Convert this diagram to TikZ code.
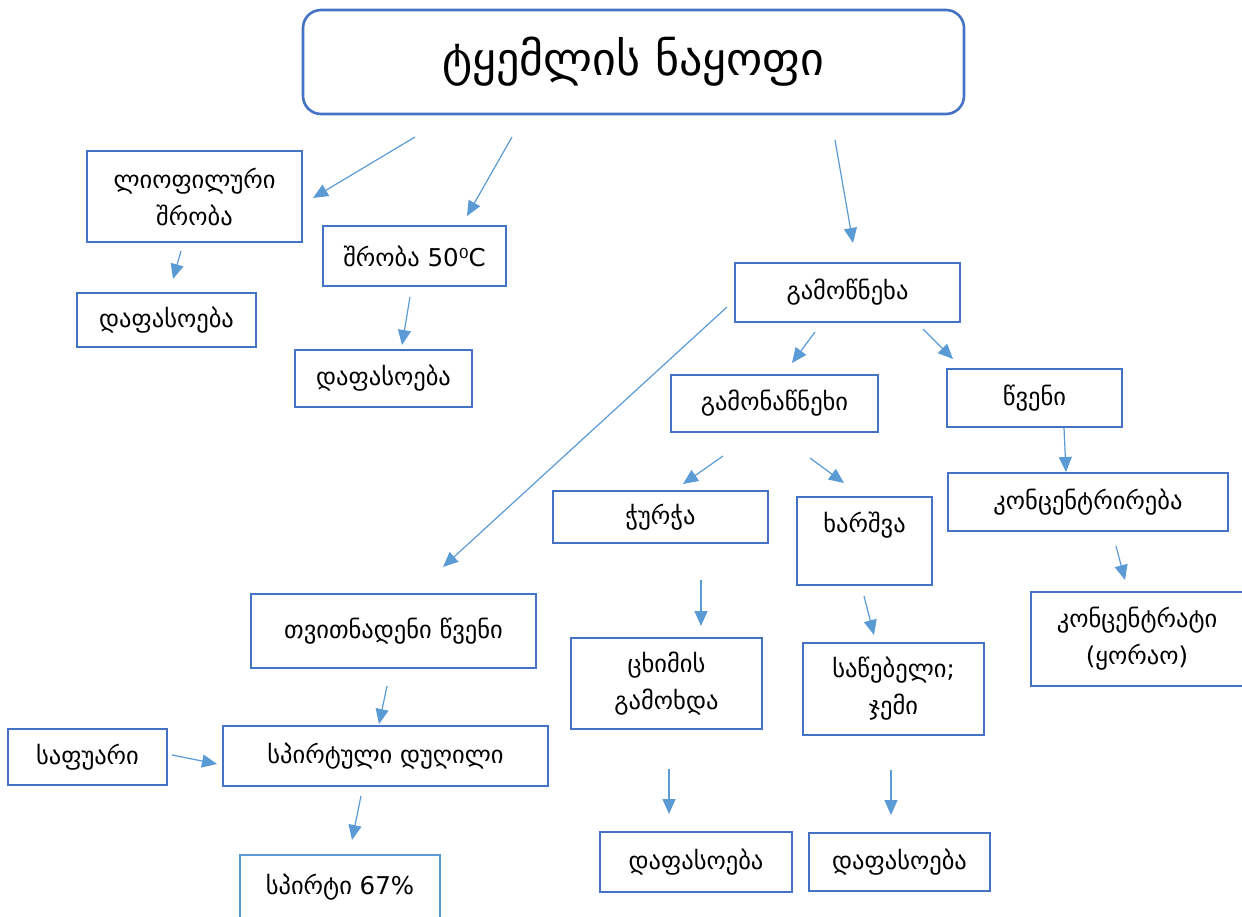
\documentclass[tikz,border=0pt]{standalone}
\usepackage{fontspec}
\setmainfont{DejaVu Sans}
\usetikzlibrary{arrows.meta}
\definecolor{boxblue}{HTML}{4472C4}
\definecolor{arrowblue}{HTML}{5B9BD5}
\definecolor{lightblue}{HTML}{5B9BD5}
\tikzset{
  gbox/.style={draw=boxblue, line width=2.6pt, fill=white, inner sep=0pt,
    align=center, font=\fontsize{24.5}{37}\selectfont},
  flow/.style={draw=arrowblue, line width=1.2pt,
    -{Triangle[length=15pt,width=13pt]}}
}
% box by its corners: name, x1, y1, x2, y2, text
\newcommand\gbox[6]{%
  \node[gbox, minimum width={(#4-#2)*1pt}, minimum height={(#5-#3)*1pt}]
    (#1) at ({(#2+#4)/2},{(#3+#5)/2}) {#6};}
\newcommand\flowarrow[5]{%
  \coordinate (#1s) at (#2,#3);
  \coordinate (#1e) at (#4,#5);
  \draw[flow] (#1s) -- (#1e);}
\begin{document}
\begin{tikzpicture}[x=1pt,y=-1pt]
\useasboundingbox (0,0) rectangle (1242,917);
\fill[white] (0,0) rectangle (1242,917);

% title
\node[draw=boxblue, line width=2.6pt, rounded corners=18pt, inner sep=0pt,
  minimum width=661pt, minimum height=104pt, font=\fontsize{46}{52}\selectfont]
  (title) at (633.5,62) {ტყემლის ნაყოფი};

% boxes
\gbox{liof}{87}{151}{302}{242}{ლიოფილური\\შრობა}
\gbox{shrob}{323}{226}{506}{286}{შრობა 50⁰C}
\gbox{pack1}{77}{293}{256}{347}{დაფასოება}
\gbox{pack2}{295}{350}{472}{407}{დაფასოება}
\gbox{press}{735}{263}{960}{322}{გამოწნეხა}
\gbox{pomace}{671}{375}{878}{432}{გამონაწნეხი}
\gbox{juice}{947}{369}{1122}{427}{წვენი}
\gbox{conc}{948}{473}{1228}{531}{კონცენტრირება}
\gbox{concres}{1031}{592}{1243}{686}{კონცენტრატი\\(ყორაო)}
\gbox{chacha}{553}{491}{768}{543}{ჭურჭა}
\gbox{boil}{797}{497}{932}{585}{ხარშვა\\\mbox{}}
\gbox{freerun}{251}{594}{536}{668}{თვითნადენი წვენი}
\gbox{oil}{571}{638}{762}{729}{ცხიმის\\გამოხდა}
\gbox{sauce}{803}{643}{984}{735}{საწებელი;\\ჯემი}
\gbox{yeast}{8}{729}{167}{785}{საფუარი}
\gbox{ferm}{223}{726}{548}{786}{სპირტული დუღილი}
\node[gbox, draw=lightblue, minimum width=200pt, minimum height=64pt]
  (spirit) at (340,887) {სპირტი 67\%};
\gbox{pack3}{600}{832}{792}{892}{დაფასოება}
\gbox{pack4}{809}{833}{990}{891}{დაფასოება}

% connectors
\flowarrow{a1}{415}{137}{313}{198}
\flowarrow{a2}{512}{137}{467}{216}
\flowarrow{a3}{835}{140}{853}{243}
\flowarrow{a4}{181}{251}{173}{279}
\flowarrow{a5}{410}{297}{402}{345}
\flowarrow{a6}{727}{307}{443}{567}
\flowarrow{a7}{815}{332}{792}{363}
\flowarrow{a8}{923}{329}{953}{359}
\flowarrow{a9}{1064}{428}{1066}{472}
\flowarrow{a10}{723}{456}{683}{484}
\flowarrow{a11}{810}{458}{844}{483}
\flowarrow{a12}{701}{580}{701}{626}
\flowarrow{a13}{864}{596}{874}{635}
\flowarrow{a14}{1116}{546}{1125}{580}
\flowarrow{a15}{387}{686}{379}{724}
\flowarrow{a16}{172}{755}{217}{764}
\flowarrow{a17}{361}{796}{352}{840}
\flowarrow{a18}{669}{769}{669}{814}
\flowarrow{a19}{891}{770}{891}{815}
\end{tikzpicture}
\end{document}
